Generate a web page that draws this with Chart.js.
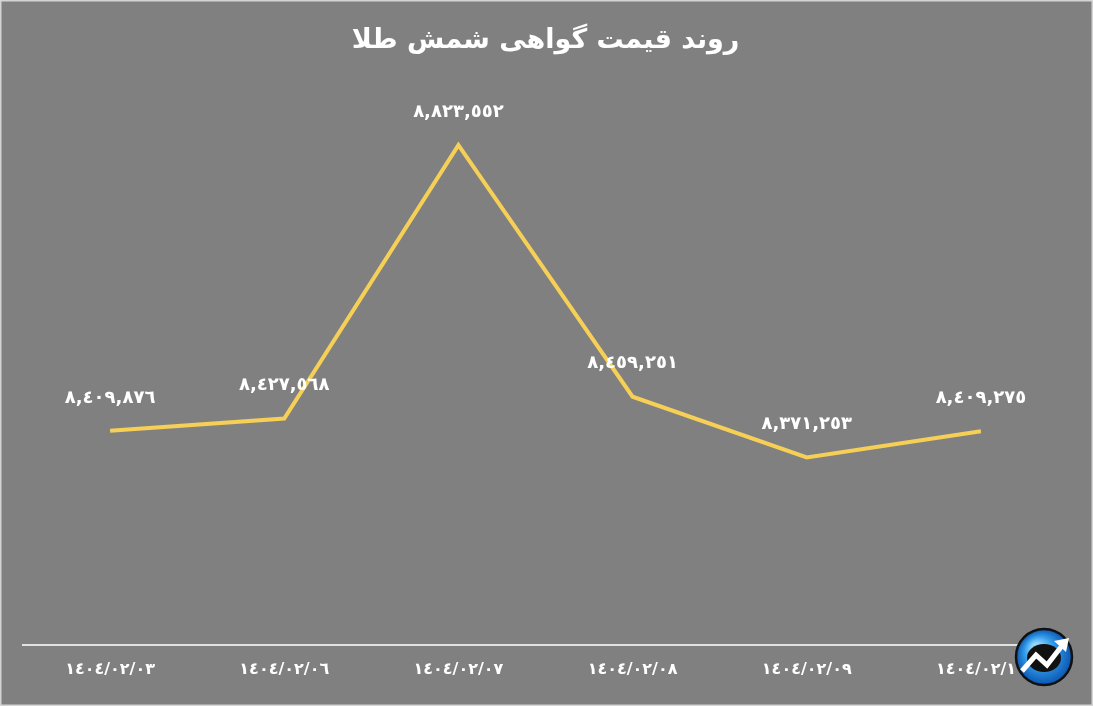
<!DOCTYPE html>
<html>
<head>
<meta charset="utf-8">
<script src="https://cdn.jsdelivr.net/npm/chart.js@4.4.1/dist/chart.umd.min.js"></script>
<style>
  html, body { margin: 0; padding: 0; background: #808080; }
  #wrap { width: 1093px; height: 706px; }
</style>
</head>
<body>
<div id="wrap"><canvas id="myChart" width="1093" height="706"></canvas></div>
<script>
// داده‌های نمودار
const titleText = 'روند قیمت گواهی شمش طلا';
const dates = ['١٤٠٤/٠٢/٠٣', '١٤٠٤/٠٢/٠٦', '١٤٠٤/٠٢/٠٧', '١٤٠٤/٠٢/٠٨', '١٤٠٤/٠٢/٠٩', '١٤٠٤/٠٢/١٠'];
const prices = [8409876, 8427568, 8823552, 8459251, 8371253, 8409275];
const yMin = 8100000;
const yMax = 8900000;

const arabicDigits = '٠١٢٣٤٥٦٧٨٩';
function toArabicNum(n) {
    return n.toLocaleString('en-US').replace(/[0-9]/g, d => arabicDigits[d]);
}

const FONT = '"DejaVu Sans", sans-serif';

// پس‌زمینه و کادر
const bgPlugin = {
    id: 'bg',
    beforeDraw(chart) {
        const c = chart.ctx;
        c.save();
        c.fillStyle = '#808080';
        c.fillRect(0, 0, chart.width, chart.height);
        c.strokeStyle = '#d4d4d4';
        c.lineWidth = 3;
        c.strokeRect(0, 0, chart.width, chart.height);
        c.restore();
    }
};

// برچسب مقادیر بالای نقاط
const valueLabels = {
    id: 'valueLabels',
    afterDatasetsDraw(chart) {
        const c = chart.ctx;
        const meta = chart.getDatasetMeta(0);
        c.save();
        c.fillStyle = '#ffffff';
        c.font = 'bold 18px ' + FONT;
        c.textAlign = 'center';
        c.textBaseline = 'middle';
        meta.data.forEach((pt, i) => {
            c.fillText(toArabicNum(prices[i]), pt.x, pt.y - 33);
        });
        c.restore();
    }
};

// لوگو گوشه پایین
const logo = {
    id: 'logo',
    afterDraw(chart) {
        const c = chart.ctx;
        const cx = 1044, cy = 657, r = 28;
        c.save();
        const g = c.createRadialGradient(cx - 8, cy - 10, 4, cx, cy, r);
        g.addColorStop(0, '#8fd6ff');
        g.addColorStop(0.5, '#2f97e6');
        g.addColorStop(1, '#0b55b0');
        c.beginPath();
        c.arc(cx, cy, r, 0, Math.PI * 2);
        c.fillStyle = g;
        c.fill();
        c.lineWidth = 2.5;
        c.strokeStyle = '#111';
        c.stroke();
        c.beginPath();
        c.ellipse(cx, cy + 1, 17, 14, 0, 0, Math.PI * 2);
        c.fillStyle = '#111';
        c.fill();
        c.beginPath();
        c.moveTo(cx - 22, cy + 14);
        c.lineTo(cx - 8, cy - 2);
        c.lineTo(cx + 3, cy + 8);
        c.lineTo(cx + 17, cy - 10);
        c.lineWidth = 5;
        c.strokeStyle = '#fff';
        c.lineJoin = 'miter';
        c.stroke();
        c.beginPath();
        c.moveTo(cx + 25, cy - 19);
        c.lineTo(cx + 10, cy - 16);
        c.lineTo(cx + 22, cy - 5);
        c.closePath();
        c.fillStyle = '#fff';
        c.fill();
        c.restore();
    }
};

const ctx = document.getElementById('myChart').getContext('2d');
const myChart = new Chart(ctx, {
    type: 'line',
    data: {
        labels: dates,
        datasets: [{
            data: prices,
            borderColor: '#f6cf56',
            borderWidth: 4,
            pointRadius: 0,
            tension: 0,
            fill: false
        }]
    },
    options: {
        responsive: false,
        animation: false,
        layout: {
            padding: { top: 0, right: 25, bottom: 12, left: 23 }
        },
        plugins: {
            legend: { display: false },
            tooltip: { enabled: false },
            title: {
                display: true,
                text: titleText,
                color: '#ffffff',
                font: { family: FONT, size: 27, weight: 'bold' },
                padding: { top: 25, bottom: 35 }
            }
        },
        scales: {
            x: {
                offset: true,
                grid: { display: false, drawTicks: false },
                border: { display: true, color: '#e2e2e2', width: 2 },
                ticks: {
                    color: '#ffffff',
                    padding: 15,
                    maxRotation: 0,
                    font: { family: FONT, size: 16, weight: 'bold' }
                }
            },
            y: {
                display: false,
                min: yMin,
                max: yMax
            }
        }
    },
    plugins: [bgPlugin, valueLabels, logo]
});
</script>
</body>
</html>
